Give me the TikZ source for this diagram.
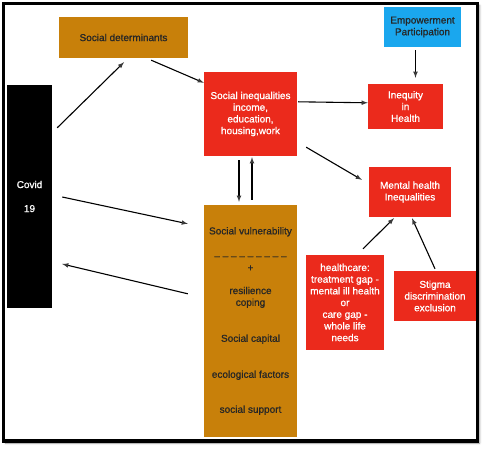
\documentclass[tikz,border=0pt]{standalone}
\usepackage{fontspec}
\setmainfont{Liberation Sans}
\newfontfamily\labelfont{Liberation Sans}[FakeBold=0.9]
\usepackage{tikz}
\usetikzlibrary{shadows}
\usetikzlibrary{shadows.blur}
\definecolor{boxorange}{HTML}{C8800A}
\definecolor{boxred}{HTML}{EB2A1C}
\definecolor{boxblue}{HTML}{1AA7EE}

\begin{document}
\begin{tikzpicture}[x=1pt,y=-1pt,
frame/.style = {line width=3.5pt, color=black, fill=white,
  blur shadow={shadow xshift=2pt, shadow yshift=-2pt, shadow blur radius=2pt, shadow opacity=45}
},
box/.style = {inner sep=0pt, align=center, font=\labelfont\fontsize{10}{11.7}\selectfont},
orangebox/.style = {box, fill=boxorange, text=black!85},
redbox/.style = {box, fill=boxred, text=white},
bluebox/.style = {box, fill=boxblue, text=black!85},
link/.style = {line width=1.1pt, -latex}
]

\useasboundingbox (0,0) rectangle (487,449);
\draw [frame] (3.5,3.5) rectangle (477.5,441);

%\node [box] at (0,0) {};
\node [orangebox, minimum width=129pt, minimum height=41pt] (determinants) at (123.5,37.5) {Social determinants};
\node [box, fill=black, text=white, minimum width=45pt, minimum height=223pt] (covid) at (29.5,196.5) {Covid\\[12.3pt]19};
\node [redbox, minimum width=93pt, minimum height=84pt] (inequalities) at (250.5,114)
  {Social inequalities\\income,\\education,\\housing,work};
\node [bluebox, minimum width=77pt, minimum height=40pt] (empower) at (422.5,27) {Empowerment\\Participation};
\node [redbox, minimum width=75pt, minimum height=45pt] (inequity) at (405.5,106.5) {Inequity\\in\\Health};
\node [redbox, minimum width=82pt, minimum height=50pt] (mental) at (410,192) {Mental health\\Inequalities};
\node [orangebox, minimum width=93pt, minimum height=232pt] (vulnerability) at (250.5,321)
  {Social vulnerability\\[13.3pt]– – – – – – – – –\\+\\[11.3pt]resilience\\coping\\[24.3pt]Social capital\\[24.3pt]ecological factors\\[23.3pt]social support};
\node [redbox, minimum width=78pt, minimum height=95pt] (healthcare) at (345,302.5)
  {healthcare:\\treatment gap -\\mental ill health\\or\\care gap -\\whole life\\needs};
\node [redbox, minimum width=82pt, minimum height=50pt] (stigma) at (435,296) {Stigma\\discrimination\\exclusion};

\draw [link] ([shift={(5,43)}]covid.north east) -- ([shift={(0.5,4)}]determinants.south);
\draw [link] ([shift={(-37,2)}]determinants.south east) -- ([shift={(0,11)}]inequalities.north west);
\draw [link] ([shift={(1,30)}]inequalities.north east) -- ([shift={(0,19)}]inequity.north west);
\draw [link] ([shift={(-7,3)}]empower.south) -- ([shift={(10,-6)}]inequity.north);
\draw [link] ([shift={(9,-9)}]inequalities.south east) -- ([shift={(-7,13)}]mental.north west);
\draw [link] ([shift={(-11.5,4)}]inequalities.south) -- ([shift={(-11.5,-3)}]vulnerability.north);
\draw [link] ([shift={(1.5,-5)}]vulnerability.north) -- ([shift={(1.5,1)}]inequalities.south);
\draw [link] ([shift={(10,0.5)}]covid.east) -- ([shift={(-16,19)}]vulnerability.north west);
\draw [link] ([shift={(-16,89)}]vulnerability.north west) -- ([shift={(10,67.5)}]covid.east);
\draw [link] ([shift={(18,-6)}]healthcare.north) -- ([shift={(-16,1)}]mental.south);
\draw [link] ([shift={(0,-2)}]stigma.north) -- ([shift={(2,1)}]mental.south);

\end{tikzpicture}
\end{document}
